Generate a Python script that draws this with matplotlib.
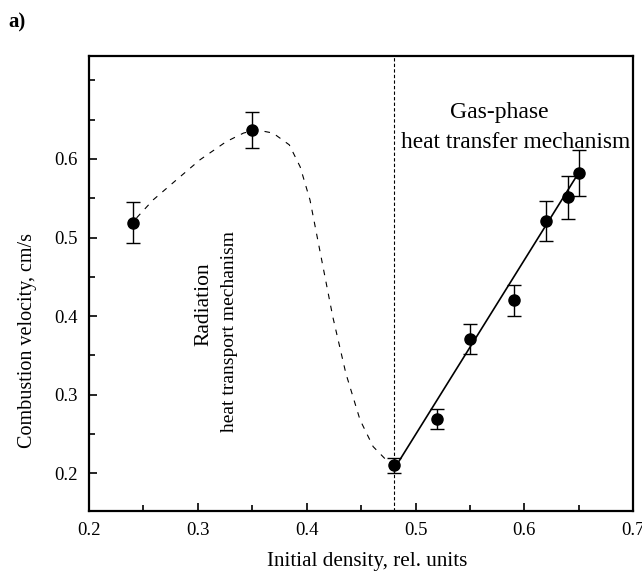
import matplotlib
matplotlib.use("Agg")
import matplotlib.pyplot as plt
from matplotlib.ticker import MultipleLocator

plt.rcParams["font.family"] = ["Liberation Serif", "DejaVu Serif"]

# measured points
density = [0.24, 0.35, 0.48, 0.52, 0.55, 0.59, 0.62, 0.64, 0.65]
velocity = [0.519, 0.637, 0.210, 0.269, 0.371, 0.420, 0.521, 0.551, 0.582]
velocity_err = [0.026, 0.023, 0.010, 0.013, 0.019, 0.020, 0.026, 0.027, 0.029]

# hand-drawn guide through the radiation region
guide_x = [0.2437, 0.259, 0.280, 0.302, 0.326, 0.342, 0.354, 0.369, 0.384,
           0.394, 0.403, 0.412, 0.424, 0.436, 0.449, 0.461, 0.473, 0.479]
guide_y = [0.525, 0.548, 0.573, 0.599, 0.622, 0.633, 0.637, 0.633, 0.618,
           0.590, 0.548, 0.484, 0.399, 0.327, 0.268, 0.234, 0.217, 0.211]

# linear fit for gas-phase region
fit_x = [0.481, 0.651]
fit_y = [0.207, 0.585]

boundary_x = 0.48

x_ticks = [0.2, 0.3, 0.4, 0.5, 0.6, 0.7]
y_ticks = [0.2, 0.3, 0.4, 0.5, 0.6]

fig = plt.figure(figsize=(6.42, 5.73), dpi=100)
ax = fig.add_axes([0.1386, 0.1082, 0.8478, 0.794])

ax.plot(guide_x, guide_y, color="black", lw=0.8, linestyle=(0, (5, 6)))
ax.plot(fit_x, fit_y, color="black", lw=1.2)
ax.axvline(boundary_x, color="black", lw=0.8, linestyle=(0, (3, 2)))
ax.errorbar(density, velocity, yerr=velocity_err, fmt="o", color="black",
            ms=8, elinewidth=1.0, capsize=5, capthick=1.0)

ax.set_xlim(0.2, 0.7)
ax.set_ylim(0.152, 0.731)
ax.set_xticks(x_ticks)
ax.set_xticklabels([f"{v:.1f}" for v in x_ticks])
ax.xaxis.set_minor_locator(MultipleLocator(0.05))
ax.set_yticks(y_ticks)
ax.set_yticklabels([f"{v:.1f}" for v in y_ticks])
ax.yaxis.set_minor_locator(MultipleLocator(0.05))
ax.tick_params(which="both", direction="in", top=False, right=False,
               labelsize=13.5, width=1.2)
ax.tick_params(which="major", length=6, pad=8)
ax.tick_params(which="minor", length=4)
for s in ax.spines.values():
    s.set_linewidth(1.6)

ax.set_xlabel("Initial density, rel. units", fontsize=15.2)
ax.set_ylabel("Combustion velocity, cm/s", fontsize=14.5)
ax.xaxis.set_label_coords(0.511, -0.09)
ax.yaxis.set_label_coords(-0.096, 0.374)

# region annotations
ax.text(0.306, 0.415, "Radiation", rotation=90,
        ha="center", va="center", fontsize=15.5)
ax.text(0.329, 0.380, "heat transport mechanism", rotation=90,
        ha="center", va="center", fontsize=14)
ax.text(0.577, 0.652, "Gas-phase", ha="center", va="baseline", fontsize=17)
ax.text(0.592, 0.614, "heat transfer mechanism", ha="center",
        va="baseline", fontsize=16.8)

fig.text(0.0125, 0.979, "a)", fontsize=15, fontweight="bold", va="top")

fig.savefig("out.png", dpi=100)
